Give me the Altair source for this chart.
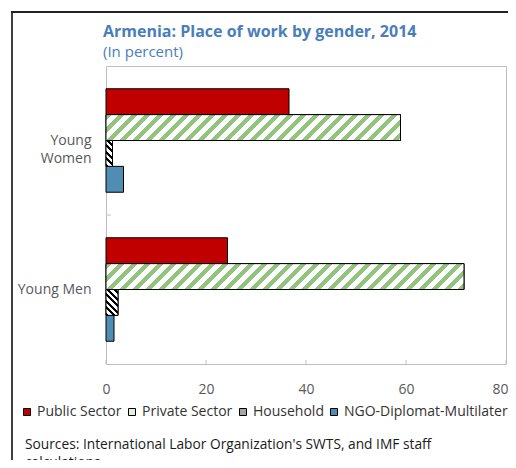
import math
import altair as alt
import pandas as pd

# ---- data -------------------------------------------------------------
CATEGORIES = ["Young Women", "Young Men"]
SERIES = ["Public Sector", "Private Sector", "Household", "NGO-Diplomat-Multilateral"]
WOMEN = [36.6, 58.9, 1.3, 3.5]
MEN = [24.3, 71.6, 2.4, 1.6]
X_TICKS = [0, 20, 40, 60, 80]
SOURCES = ["Sources: International Labor Organization's SWTS, and IMF staff",
           "calculations."]
TITLE = "Armenia: Place of work by gender, 2014"
SUBTITLE = "(In percent)"

# ---- style ------------------------------------------------------------
COLORS = ["#c00000", "#e2f0d9", "#a6a6a6", "#4f8db3"]
FONT = "Open Sans"
W, H = 400, 298
X_MAX = 80
PAD_OUTER = 0.88
STEP = (H / len(CATEGORIES)) / (len(SERIES) + 2 * PAD_OUTER)
GRAY = "#bfbfbf"
LABEL = "#595959"
TITLE_COLOR = "#4a7ebb"

rows = []
for cat, vals in zip(CATEGORIES, [WOMEN, MEN]):
    for s, v in zip(SERIES, vals):
        rows.append({"cat": cat, "series": s, "value": v})
df = pd.DataFrame(rows)

x_scale = alt.Scale(domain=[0, X_MAX], nice=False)
y_scale = alt.Scale(domain=CATEGORIES, paddingInner=0, paddingOuter=0)
yo_scale = alt.Scale(domain=SERIES, paddingInner=0, paddingOuter=PAD_OUTER)

LAST = f"datum.value == {X_TICKS[-1]}"
X_AXIS = alt.Axis(values=X_TICKS, ticks=False, grid=False, domain=False,
                  labelPadding=18, labelFontSize=14, labelColor=LABEL,
                  labelFont=FONT, labelFlush=False, title=None,
                  labelAlign=alt.condition(LAST, alt.value("right"), alt.value("center")),
                  labelOffset=alt.condition(LAST, alt.value(2), alt.value(0)))
Y_AXIS = alt.Axis(ticks=False, domain=False, grid=False, labelFontSize=14,
                  labelColor=LABEL, labelFont=FONT, labelPadding=15,
                  labelLineHeight=18, title=None,
                  labelExpr="datum.value == 'Young Women' ? ['Young\u00a0', 'Women'] : datum.value")


def x_enc():
    return alt.X("value:Q", scale=x_scale, axis=X_AXIS, title=None)


def y_enc(**kw):
    return alt.Y("cat:N", scale=y_scale, sort=CATEGORIES, axis=Y_AXIS, title=None, **kw)


def yo_enc():
    return alt.YOffset("series:N", scale=yo_scale, sort=SERIES)


def stripes(wpx, hpx, period, frac, color, forward=True):
    """Diagonal stripe fill as a hard-stop linear gradient (bbox units)."""
    wpx = max(wpx, 0.5)
    L = wpx + hpx
    k = L / (wpx * (1 + (hpx / wpx) ** 2))
    stops = []
    n = int(math.ceil(L / period)) + 1
    for i in range(n):
        a = i * period / L
        b = (i * period + frac * period) / L
        c = (i + 1) * period / L
        for off, col in ((a, color), (b, color), (b, "white"), (c, "white")):
            off = min(max(off, 0.0), 1.0)
            stops.append({"offset": off, "color": col})
    if forward:   # "/" stripes
        g = {"x1": 0, "y1": 0, "x2": k, "y2": k * hpx / wpx}
    else:         # "\" stripes
        g = {"x1": 0, "y1": 1, "x2": k, "y2": 1 - k * hpx / wpx}
    g.update({"gradient": "linear", "stops": stops})
    return g


bars = alt.Chart(df).mark_bar(stroke="black", strokeWidth=1).encode(
    x=x_enc(),
    y=y_enc(),
    yOffset=yo_enc(),
    fill=alt.Fill(
        "series:N", scale=alt.Scale(domain=SERIES, range=COLORS), sort=SERIES,
        legend=alt.Legend(orient="none", legendX=-86, legendY=339,
                          direction="horizontal", title=None,
                          symbolType="square", symbolSize=49,
                          symbolStrokeColor="black", symbolStrokeWidth=1,
                          labelFont=FONT, labelFontSize=14, labelColor="#333333",
                          columnPadding=3, labelOffset=3, labelLimit=0),
    ),
)

layers = [bars]
PATTERNS = {
    "Private Sector": dict(period=13, frac=0.42, color="#93c47d", forward=True),
    "Household": dict(period=6.5, frac=0.45, color="#000000", forward=False),
}
for _, r in df.iterrows():
    if r["series"] not in PATTERNS:
        continue
    p = PATTERNS[r["series"]]
    wpx = r["value"] * W / X_MAX
    grad = stripes(wpx, STEP, p["period"], p["frac"], p["color"], p["forward"])
    sub = df[(df["cat"] == r["cat"]) & (df["series"] == r["series"])]
    layers.append(
        alt.Chart(sub).mark_bar(fill=grad, stroke="black", strokeWidth=1).encode(
            x=x_enc(), y=y_enc(), yOffset=yo_enc(),
        )
    )

# inward x ticks
tick_df = pd.DataFrame({"value": X_TICKS})
layers.append(
    alt.Chart(tick_df).mark_rule(color=GRAY, strokeWidth=1).encode(
        x=x_enc(), y=alt.value(H - 4), y2=alt.value(H),
    )
)
# inward y tick between categories
bt_df = pd.DataFrame({"cat": [CATEGORIES[1]]})
layers.append(
    alt.Chart(bt_df).mark_rule(color=GRAY, strokeWidth=1).encode(
        y=y_enc(bandPosition=0), x=alt.value(0), x2=alt.value(5),
    )
)

one = pd.DataFrame({"a": [0]})
# title and subtitle
layers.append(
    alt.Chart(one).mark_text(text=TITLE, align="left", baseline="alphabetic",
                             font=FONT, fontSize=16, fontWeight="bold",
                             color=TITLE_COLOR).encode(
        x=alt.value(-3), y=alt.value(-29)
    )
)
layers.append(
    alt.Chart(one).mark_text(text=SUBTITLE, align="left", baseline="alphabetic",
                             font=FONT, fontSize=15, color=TITLE_COLOR).encode(
        x=alt.value(-3), y=alt.value(-9)
    )
)
# sources note
layers.append(
    alt.Chart(one).mark_text(text=SOURCES, align="left", baseline="alphabetic",
                             font=FONT, fontSize=13.75, lineHeight=18,
                             color="#1a1a1a").encode(
        x=alt.value(-81), y=alt.value(383)
    )
)
# outer frame (left and top edges)
layers.append(
    alt.Chart(one).mark_rule(color="#404040", strokeWidth=2).encode(
        x=alt.value(-94), y=alt.value(-55), y2=alt.value(400)
    )
)
layers.append(
    alt.Chart(one).mark_rule(color="#222222", strokeWidth=2).encode(
        x=alt.value(-95), x2=alt.value(410), y=alt.value(-54)
    )
)

chart = alt.layer(*layers).properties(
    width=W, height=H,
    autosize=alt.AutoSizeParams(type="none"),
    padding={"left": 98, "top": 58, "right": 2, "bottom": 96},
).configure_view(stroke=GRAY, strokeWidth=1)

chart.save("out.html", embed_options={"renderer": "svg", "actions": False})
